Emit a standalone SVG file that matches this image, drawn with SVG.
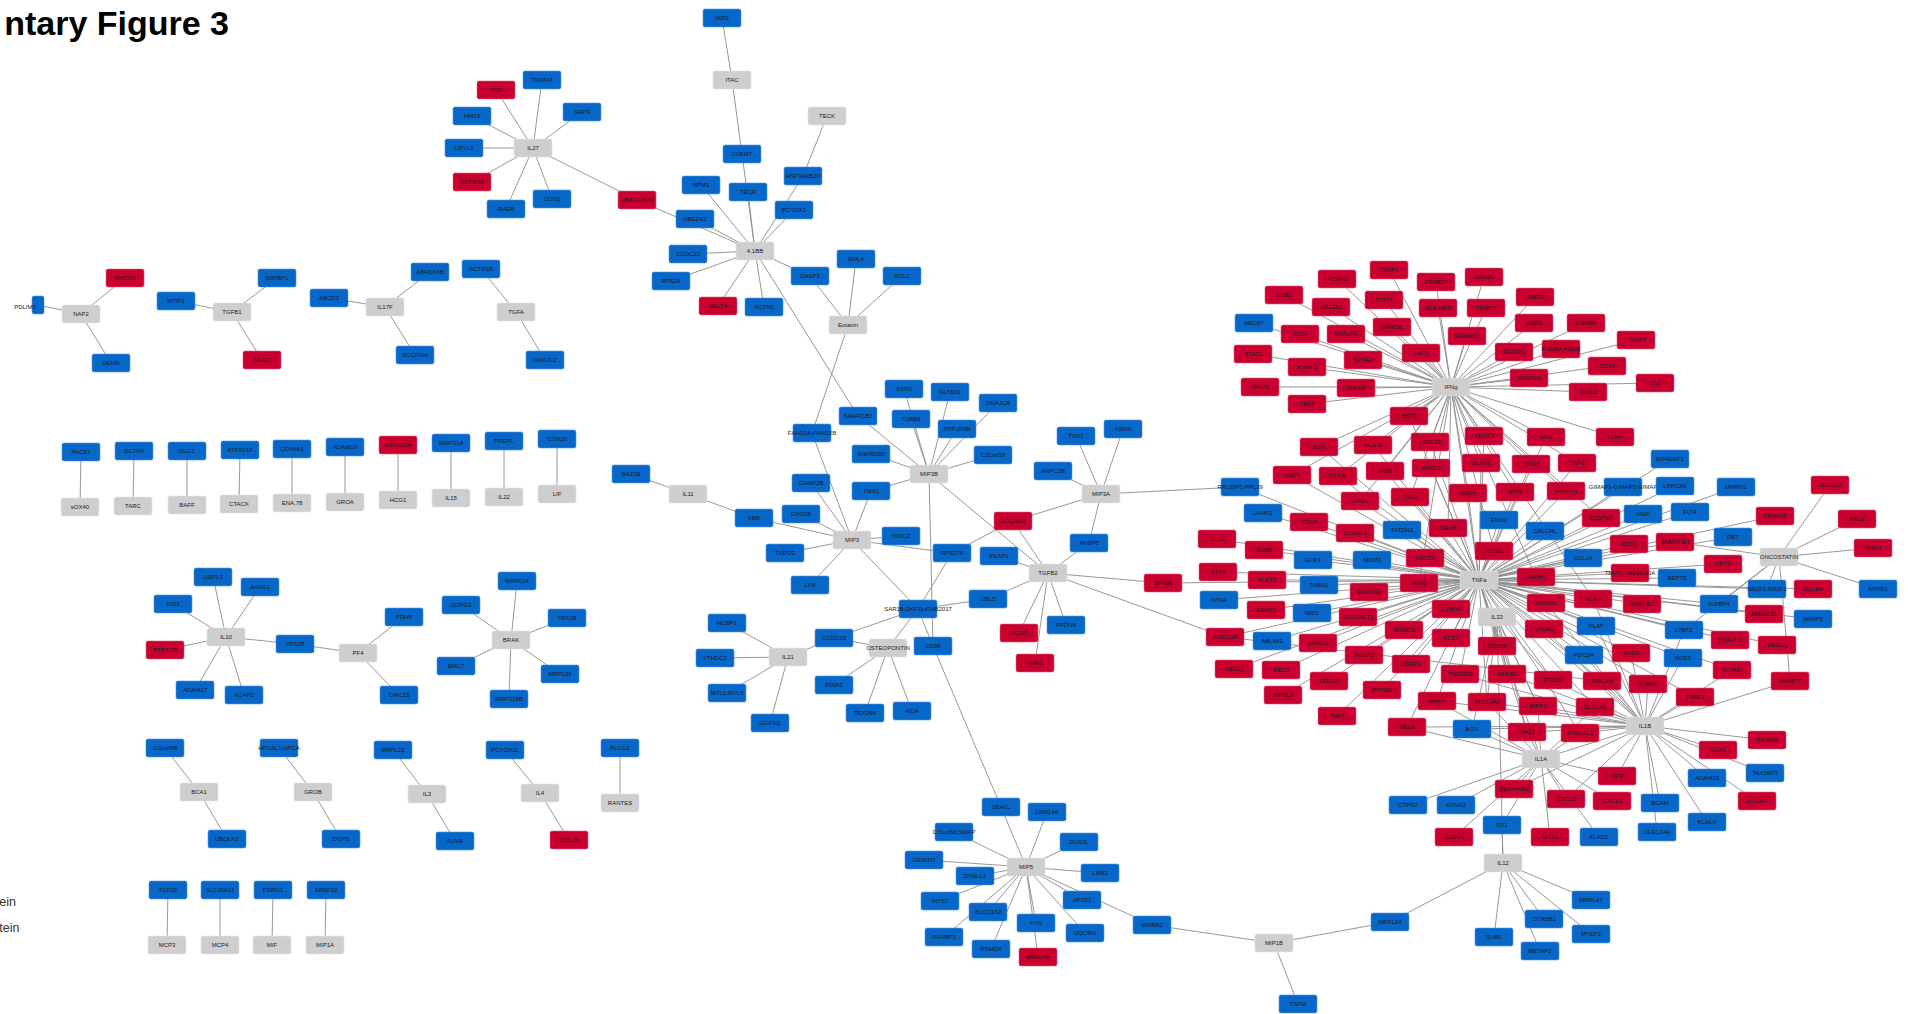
<svg xmlns="http://www.w3.org/2000/svg" xmlns:xlink="http://www.w3.org/1999/xlink" width="1908" height="1014" viewBox="0 0 1908 1014">
<style>
.b{fill:#0767c9;stroke:#4f93dd;stroke-width:0.6}
.r{fill:#c9002f;stroke:#e0607a;stroke-width:0.6}
.g{fill:#cecece;stroke:#e2e2e2;stroke-width:0.6}
text{font-family:"Liberation Sans",Arial,sans-serif;font-size:6px;text-anchor:middle;fill:#1a1a1a}
.title{font-size:34px;font-weight:bold;text-anchor:end;fill:#000}
.lg{font-size:12.5px;text-anchor:end;fill:#333}
#edges line{stroke:#8c8c8c;stroke-width:0.9}
</style>
<defs><rect id="bx" x="-19" y="-9" width="38" height="18" rx="2"/></defs>
<rect width="1908" height="1014" fill="#fff"/>
<text class="title" x="229" y="35">ntary Figure 3</text>
<text class="lg" x="16" y="906">ein</text>
<text class="lg" x="19.5" y="932">tein</text>
<g id="edges">
<line x1="81" y1="314" x2="38" y2="305"/><line x1="81" y1="314" x2="125" y2="278"/><line x1="81" y1="314" x2="111" y2="363"/>
<line x1="232" y1="312" x2="176" y2="301"/><line x1="232" y1="312" x2="277" y2="278"/><line x1="232" y1="312" x2="262" y2="360"/>
<line x1="385" y1="307" x2="329" y2="298"/><line x1="385" y1="307" x2="430" y2="272"/><line x1="385" y1="307" x2="415" y2="355"/>
<line x1="516" y1="312" x2="481" y2="269"/><line x1="516" y1="312" x2="545" y2="360"/>
<line x1="533" y1="148" x2="496" y2="90"/><line x1="533" y1="148" x2="542" y2="80"/><line x1="533" y1="148" x2="472" y2="116"/><line x1="533" y1="148" x2="464" y2="148"/><line x1="533" y1="148" x2="582" y2="112"/><line x1="533" y1="148" x2="472" y2="182"/><line x1="533" y1="148" x2="506" y2="209"/><line x1="533" y1="148" x2="552" y2="199"/><line x1="533" y1="148" x2="637" y2="200"/>
<line x1="722" y1="18" x2="732" y2="80"/><line x1="732" y1="80" x2="742" y2="154"/><line x1="742" y1="154" x2="755" y2="251"/><line x1="827" y1="116" x2="803" y2="176"/><line x1="803" y1="176" x2="755" y2="251"/><line x1="794" y1="210" x2="755" y2="251"/><line x1="701" y1="185" x2="755" y2="251"/><line x1="748" y1="192" x2="755" y2="251"/><line x1="695" y1="219" x2="755" y2="251"/><line x1="637" y1="200" x2="755" y2="251"/><line x1="688" y1="254" x2="755" y2="251"/><line x1="671" y1="281" x2="755" y2="251"/><line x1="718" y1="306" x2="755" y2="251"/><line x1="764" y1="307" x2="755" y2="251"/><line x1="810" y1="276" x2="755" y2="251"/><line x1="755" y1="251" x2="858" y2="416"/>
<line x1="810" y1="276" x2="848" y2="325"/><line x1="856" y1="259" x2="848" y2="325"/><line x1="902" y1="276" x2="848" y2="325"/><line x1="812" y1="433" x2="848" y2="325"/>
<line x1="929" y1="474" x2="904" y2="389"/><line x1="929" y1="474" x2="911" y2="419"/><line x1="929" y1="474" x2="950" y2="392"/><line x1="929" y1="474" x2="998" y2="403"/><line x1="929" y1="474" x2="957" y2="429"/><line x1="929" y1="474" x2="858" y2="416"/><line x1="929" y1="474" x2="871" y2="454"/><line x1="929" y1="474" x2="993" y2="455"/><line x1="929" y1="474" x2="871" y2="491"/><line x1="929" y1="474" x2="933" y2="646"/><line x1="929" y1="474" x2="1048" y2="573"/>
<line x1="852" y1="540" x2="811" y2="483"/><line x1="852" y1="540" x2="812" y2="433"/><line x1="852" y1="540" x2="871" y2="491"/><line x1="852" y1="540" x2="754" y2="518"/><line x1="852" y1="540" x2="801" y2="514"/><line x1="852" y1="540" x2="901" y2="536"/><line x1="852" y1="540" x2="785" y2="553"/><line x1="852" y1="540" x2="810" y2="585"/><line x1="852" y1="540" x2="952" y2="553"/><line x1="852" y1="540" x2="918" y2="609"/>
<line x1="688" y1="494" x2="631" y2="474"/><line x1="688" y1="494" x2="754" y2="518"/>
<line x1="1101" y1="494" x2="1076" y2="436"/><line x1="1101" y1="494" x2="1123" y2="429"/><line x1="1101" y1="494" x2="1053" y2="471"/><line x1="1101" y1="494" x2="1089" y2="543"/><line x1="1101" y1="494" x2="1013" y2="521"/><line x1="1101" y1="494" x2="1240" y2="487"/>
<line x1="1013" y1="521" x2="952" y2="553"/><line x1="1013" y1="521" x2="1048" y2="573"/>
<line x1="1048" y1="573" x2="999" y2="556"/><line x1="1048" y1="573" x2="1089" y2="543"/><line x1="1048" y1="573" x2="988" y2="599"/><line x1="1048" y1="573" x2="1019" y2="633"/><line x1="1048" y1="573" x2="1035" y2="663"/><line x1="1048" y1="573" x2="1066" y2="625"/><line x1="1048" y1="573" x2="1163" y2="583"/><line x1="1048" y1="573" x2="1225" y2="637"/>
<line x1="988" y1="599" x2="918" y2="609"/>
<line x1="918" y1="609" x2="834" y2="638"/><line x1="918" y1="609" x2="888" y2="648"/><line x1="918" y1="609" x2="933" y2="646"/><line x1="918" y1="609" x2="952" y2="553"/>
<line x1="788" y1="657" x2="727" y2="623"/><line x1="788" y1="657" x2="715" y2="658"/><line x1="788" y1="657" x2="727" y2="693"/><line x1="788" y1="657" x2="770" y2="723"/><line x1="788" y1="657" x2="834" y2="638"/>
<line x1="888" y1="648" x2="834" y2="638"/><line x1="888" y1="648" x2="834" y2="685"/><line x1="888" y1="648" x2="865" y2="713"/><line x1="888" y1="648" x2="912" y2="711"/>
<line x1="933" y1="646" x2="1001" y2="807"/>
<line x1="1026" y1="867" x2="1001" y2="807"/><line x1="1026" y1="867" x2="1047" y2="812"/><line x1="1026" y1="867" x2="954" y2="832"/><line x1="1026" y1="867" x2="1079" y2="842"/><line x1="1026" y1="867" x2="924" y2="860"/><line x1="1026" y1="867" x2="1100" y2="873"/><line x1="1026" y1="867" x2="975" y2="876"/><line x1="1026" y1="867" x2="940" y2="901"/><line x1="1026" y1="867" x2="988" y2="912"/><line x1="1026" y1="867" x2="944" y2="937"/><line x1="1026" y1="867" x2="991" y2="949"/><line x1="1026" y1="867" x2="1036" y2="923"/><line x1="1026" y1="867" x2="1038" y2="957"/><line x1="1026" y1="867" x2="1085" y2="933"/><line x1="1026" y1="867" x2="1082" y2="900"/><line x1="1026" y1="867" x2="1152" y2="925"/>
<line x1="1274" y1="943" x2="1152" y2="925"/><line x1="1274" y1="943" x2="1390" y2="922"/><line x1="1274" y1="943" x2="1298" y2="1004"/>
<line x1="1503" y1="863" x2="1390" y2="922"/><line x1="1503" y1="863" x2="1494" y2="937"/><line x1="1503" y1="863" x2="1544" y2="919"/><line x1="1503" y1="863" x2="1540" y2="951"/><line x1="1503" y1="863" x2="1591" y2="934"/><line x1="1503" y1="863" x2="1591" y2="900"/><line x1="1503" y1="863" x2="1502" y2="825"/>
<line x1="81" y1="452" x2="80" y2="507"/><line x1="134" y1="451" x2="133" y2="506"/><line x1="187" y1="451" x2="187" y2="505"/><line x1="240" y1="450" x2="239" y2="504"/><line x1="292" y1="449" x2="292" y2="503"/><line x1="345" y1="447" x2="345" y2="502"/><line x1="398" y1="445" x2="398" y2="500"/><line x1="451" y1="443" x2="451" y2="498"/><line x1="504" y1="441" x2="504" y2="497"/><line x1="557" y1="439" x2="557" y2="494"/>
<line x1="226" y1="637" x2="213" y2="577"/><line x1="226" y1="637" x2="260" y2="587"/><line x1="226" y1="637" x2="173" y2="604"/><line x1="226" y1="637" x2="165" y2="650"/><line x1="226" y1="637" x2="295" y2="644"/><line x1="226" y1="637" x2="195" y2="690"/><line x1="226" y1="637" x2="244" y2="695"/>
<line x1="358" y1="653" x2="295" y2="644"/><line x1="358" y1="653" x2="404" y2="617"/><line x1="358" y1="653" x2="399" y2="695"/>
<line x1="511" y1="640" x2="517" y2="581"/><line x1="511" y1="640" x2="461" y2="605"/><line x1="511" y1="640" x2="567" y2="618"/><line x1="511" y1="640" x2="456" y2="666"/><line x1="511" y1="640" x2="560" y2="674"/><line x1="511" y1="640" x2="509" y2="699"/>
<line x1="199" y1="792" x2="165" y2="748"/><line x1="199" y1="792" x2="227" y2="839"/><line x1="313" y1="792" x2="279" y2="748"/><line x1="313" y1="792" x2="341" y2="839"/><line x1="427" y1="794" x2="393" y2="750"/><line x1="427" y1="794" x2="455" y2="841"/><line x1="540" y1="793" x2="505" y2="750"/><line x1="540" y1="793" x2="569" y2="840"/><line x1="620" y1="803" x2="620" y2="748"/>
<line x1="168" y1="890" x2="167" y2="945"/><line x1="220" y1="890" x2="220" y2="945"/><line x1="273" y1="890" x2="272" y2="945"/><line x1="326" y1="890" x2="325" y2="945"/>
<line x1="1451" y1="387" x2="1389" y2="270"/><line x1="1451" y1="387" x2="1337" y2="279"/><line x1="1451" y1="387" x2="1436" y2="282"/><line x1="1451" y1="387" x2="1484" y2="277"/><line x1="1451" y1="387" x2="1284" y2="295"/><line x1="1451" y1="387" x2="1384" y2="300"/><line x1="1451" y1="387" x2="1438" y2="308"/><line x1="1451" y1="387" x2="1486" y2="308"/><line x1="1451" y1="387" x2="1535" y2="297"/><line x1="1451" y1="387" x2="1331" y2="307"/><line x1="1451" y1="387" x2="1254" y2="323"/><line x1="1451" y1="387" x2="1392" y2="327"/><line x1="1451" y1="387" x2="1534" y2="323"/><line x1="1451" y1="387" x2="1586" y2="323"/><line x1="1451" y1="387" x2="1300" y2="334"/><line x1="1451" y1="387" x2="1346" y2="334"/><line x1="1451" y1="387" x2="1467" y2="336"/><line x1="1451" y1="387" x2="1636" y2="340"/><line x1="1451" y1="387" x2="1253" y2="354"/><line x1="1451" y1="387" x2="1421" y2="353"/><line x1="1451" y1="387" x2="1514" y2="352"/><line x1="1451" y1="387" x2="1561" y2="349"/><line x1="1451" y1="387" x2="1307" y2="367"/><line x1="1451" y1="387" x2="1363" y2="360"/><line x1="1451" y1="387" x2="1607" y2="366"/><line x1="1451" y1="387" x2="1529" y2="378"/><line x1="1451" y1="387" x2="1260" y2="387"/><line x1="1451" y1="387" x2="1356" y2="388"/><line x1="1451" y1="387" x2="1655" y2="383"/><line x1="1451" y1="387" x2="1588" y2="392"/><line x1="1451" y1="387" x2="1307" y2="404"/><line x1="1451" y1="387" x2="1409" y2="416"/><line x1="1451" y1="387" x2="1484" y2="436"/><line x1="1451" y1="387" x2="1546" y2="437"/><line x1="1451" y1="387" x2="1615" y2="437"/><line x1="1451" y1="387" x2="1319" y2="447"/><line x1="1451" y1="387" x2="1373" y2="445"/><line x1="1451" y1="387" x2="1430" y2="442"/><line x1="1451" y1="387" x2="1481" y2="463"/><line x1="1451" y1="387" x2="1531" y2="464"/><line x1="1451" y1="387" x2="1577" y2="463"/><line x1="1451" y1="387" x2="1292" y2="475"/><line x1="1451" y1="387" x2="1338" y2="476"/><line x1="1451" y1="387" x2="1385" y2="471"/><line x1="1451" y1="387" x2="1431" y2="468"/><line x1="1451" y1="387" x2="1566" y2="491"/><line x1="1451" y1="387" x2="1410" y2="497"/><line x1="1451" y1="387" x2="1468" y2="493"/><line x1="1451" y1="387" x2="1515" y2="492"/><line x1="1451" y1="387" x2="1360" y2="501"/><line x1="1451" y1="387" x2="1479" y2="580"/><line x1="1451" y1="387" x2="1494" y2="551"/><line x1="1451" y1="387" x2="1536" y2="577"/><line x1="1451" y1="387" x2="1593" y2="599"/><line x1="1451" y1="387" x2="1419" y2="583"/><line x1="1451" y1="387" x2="1601" y2="518"/><line x1="1451" y1="387" x2="1448" y2="528"/>
<line x1="1479" y1="580" x2="1292" y2="475"/><line x1="1479" y1="580" x2="1338" y2="476"/><line x1="1479" y1="580" x2="1385" y2="471"/><line x1="1479" y1="580" x2="1431" y2="468"/><line x1="1479" y1="580" x2="1410" y2="497"/><line x1="1479" y1="580" x2="1468" y2="493"/><line x1="1479" y1="580" x2="1515" y2="492"/><line x1="1479" y1="580" x2="1566" y2="491"/><line x1="1479" y1="580" x2="1360" y2="501"/><line x1="1479" y1="580" x2="1240" y2="487"/><line x1="1479" y1="580" x2="1319" y2="447"/><line x1="1479" y1="580" x2="1373" y2="445"/><line x1="1479" y1="580" x2="1409" y2="416"/><line x1="1479" y1="580" x2="1430" y2="442"/><line x1="1479" y1="580" x2="1484" y2="436"/><line x1="1479" y1="580" x2="1481" y2="463"/><line x1="1479" y1="580" x2="1531" y2="464"/><line x1="1479" y1="580" x2="1577" y2="463"/><line x1="1479" y1="580" x2="1546" y2="437"/>
<line x1="1479" y1="580" x2="1263" y2="513"/><line x1="1479" y1="580" x2="1309" y2="522"/><line x1="1479" y1="580" x2="1499" y2="520"/><line x1="1479" y1="580" x2="1601" y2="518"/><line x1="1479" y1="580" x2="1355" y2="533"/><line x1="1479" y1="580" x2="1402" y2="530"/><line x1="1479" y1="580" x2="1448" y2="528"/><line x1="1479" y1="580" x2="1545" y2="531"/><line x1="1479" y1="580" x2="1217" y2="539"/><line x1="1479" y1="580" x2="1264" y2="550"/><line x1="1479" y1="580" x2="1494" y2="551"/><line x1="1479" y1="580" x2="1313" y2="560"/><line x1="1479" y1="580" x2="1372" y2="560"/><line x1="1479" y1="580" x2="1425" y2="558"/><line x1="1479" y1="580" x2="1583" y2="558"/><line x1="1479" y1="580" x2="1218" y2="572"/><line x1="1479" y1="580" x2="1267" y2="580"/><line x1="1479" y1="580" x2="1163" y2="583"/><line x1="1479" y1="580" x2="1419" y2="583"/><line x1="1479" y1="580" x2="1536" y2="577"/><line x1="1479" y1="580" x2="1319" y2="585"/><line x1="1479" y1="580" x2="1369" y2="592"/><line x1="1479" y1="580" x2="1219" y2="600"/><line x1="1479" y1="580" x2="1593" y2="599"/><line x1="1479" y1="580" x2="1546" y2="603"/><line x1="1479" y1="580" x2="1266" y2="610"/><line x1="1479" y1="580" x2="1312" y2="613"/><line x1="1479" y1="580" x2="1358" y2="617"/><line x1="1479" y1="580" x2="1451" y2="609"/><line x1="1479" y1="580" x2="1596" y2="626"/><line x1="1479" y1="580" x2="1404" y2="630"/><line x1="1479" y1="580" x2="1544" y2="629"/><line x1="1479" y1="580" x2="1225" y2="637"/><line x1="1479" y1="580" x2="1272" y2="641"/><line x1="1479" y1="580" x2="1318" y2="643"/><line x1="1479" y1="580" x2="1451" y2="638"/><line x1="1479" y1="580" x2="1497" y2="646"/><line x1="1479" y1="580" x2="1584" y2="655"/><line x1="1479" y1="580" x2="1364" y2="655"/><line x1="1479" y1="580" x2="1411" y2="664"/><line x1="1479" y1="580" x2="1234" y2="669"/><line x1="1479" y1="580" x2="1281" y2="670"/><line x1="1479" y1="580" x2="1460" y2="674"/><line x1="1479" y1="580" x2="1507" y2="674"/><line x1="1479" y1="580" x2="1553" y2="680"/><line x1="1479" y1="580" x2="1602" y2="681"/><line x1="1479" y1="580" x2="1329" y2="681"/><line x1="1479" y1="580" x2="1382" y2="690"/><line x1="1479" y1="580" x2="1283" y2="695"/><line x1="1479" y1="580" x2="1437" y2="701"/><line x1="1479" y1="580" x2="1487" y2="702"/><line x1="1479" y1="580" x2="1538" y2="706"/><line x1="1479" y1="580" x2="1595" y2="707"/><line x1="1479" y1="580" x2="1337" y2="716"/><line x1="1479" y1="580" x2="1407" y2="727"/><line x1="1479" y1="580" x2="1527" y2="732"/><line x1="1479" y1="580" x2="1580" y2="733"/><line x1="1479" y1="580" x2="1629" y2="544"/><line x1="1479" y1="580" x2="1675" y2="542"/><line x1="1479" y1="580" x2="1630" y2="573"/><line x1="1479" y1="580" x2="1677" y2="578"/><line x1="1479" y1="580" x2="1642" y2="604"/><line x1="1479" y1="580" x2="1719" y2="604"/><line x1="1479" y1="580" x2="1764" y2="614"/><line x1="1479" y1="580" x2="1684" y2="630"/><line x1="1479" y1="580" x2="1730" y2="640"/><line x1="1479" y1="580" x2="1631" y2="653"/><line x1="1479" y1="580" x2="1683" y2="658"/><line x1="1479" y1="580" x2="1732" y2="670"/><line x1="1479" y1="580" x2="1648" y2="684"/><line x1="1479" y1="580" x2="1695" y2="697"/><line x1="1479" y1="580" x2="1643" y2="514"/><line x1="1479" y1="580" x2="1690" y2="512"/><line x1="1479" y1="580" x2="1736" y2="487"/><line x1="1479" y1="580" x2="1675" y2="486"/><line x1="1479" y1="580" x2="1670" y2="459"/><line x1="1479" y1="580" x2="1623" y2="487"/><line x1="1479" y1="580" x2="1767" y2="589"/><line x1="1479" y1="580" x2="1723" y2="564"/><line x1="1479" y1="580" x2="1733" y2="537"/><line x1="1479" y1="580" x2="1813" y2="589"/><line x1="1479" y1="580" x2="1813" y2="619"/><line x1="1479" y1="580" x2="1775" y2="516"/><line x1="1479" y1="580" x2="1777" y2="645"/>
<line x1="1497" y1="617" x2="1497" y2="646"/><line x1="1497" y1="617" x2="1507" y2="674"/><line x1="1497" y1="617" x2="1487" y2="702"/><line x1="1497" y1="617" x2="1527" y2="732"/><line x1="1497" y1="617" x2="1538" y2="706"/><line x1="1497" y1="617" x2="1553" y2="680"/><line x1="1497" y1="617" x2="1503" y2="863"/><line x1="1497" y1="617" x2="1472" y2="729"/>
<line x1="1645" y1="726" x2="1407" y2="727"/><line x1="1645" y1="726" x2="1472" y2="729"/><line x1="1645" y1="726" x2="1527" y2="732"/><line x1="1645" y1="726" x2="1580" y2="733"/><line x1="1645" y1="726" x2="1595" y2="707"/><line x1="1645" y1="726" x2="1538" y2="706"/><line x1="1645" y1="726" x2="1487" y2="702"/><line x1="1645" y1="726" x2="1437" y2="701"/><line x1="1645" y1="726" x2="1695" y2="697"/><line x1="1645" y1="726" x2="1790" y2="681"/><line x1="1645" y1="726" x2="1648" y2="684"/><line x1="1645" y1="726" x2="1631" y2="653"/><line x1="1645" y1="726" x2="1683" y2="658"/><line x1="1645" y1="726" x2="1684" y2="630"/><line x1="1645" y1="726" x2="1602" y2="681"/><line x1="1645" y1="726" x2="1553" y2="680"/><line x1="1645" y1="726" x2="1584" y2="655"/><line x1="1645" y1="726" x2="1596" y2="626"/><line x1="1645" y1="726" x2="1732" y2="670"/><line x1="1645" y1="726" x2="1767" y2="740"/><line x1="1645" y1="726" x2="1718" y2="750"/><line x1="1645" y1="726" x2="1765" y2="773"/><line x1="1645" y1="726" x2="1707" y2="778"/><line x1="1645" y1="726" x2="1757" y2="801"/><line x1="1645" y1="726" x2="1707" y2="822"/><line x1="1645" y1="726" x2="1660" y2="803"/><line x1="1645" y1="726" x2="1657" y2="832"/><line x1="1645" y1="726" x2="1617" y2="776"/><line x1="1645" y1="726" x2="1566" y2="799"/><line x1="1645" y1="726" x2="1514" y2="789"/><line x1="1645" y1="726" x2="1460" y2="674"/><line x1="1645" y1="726" x2="1507" y2="674"/><line x1="1645" y1="726" x2="1593" y2="599"/><line x1="1645" y1="726" x2="1546" y2="603"/><line x1="1645" y1="726" x2="1544" y2="629"/><line x1="1645" y1="726" x2="1479" y2="580"/><line x1="1645" y1="726" x2="1541" y2="759"/>
<line x1="1541" y1="759" x2="1407" y2="727"/><line x1="1541" y1="759" x2="1472" y2="729"/><line x1="1541" y1="759" x2="1527" y2="732"/><line x1="1541" y1="759" x2="1580" y2="733"/><line x1="1541" y1="759" x2="1487" y2="702"/><line x1="1541" y1="759" x2="1437" y2="701"/><line x1="1541" y1="759" x2="1538" y2="706"/><line x1="1541" y1="759" x2="1408" y2="805"/><line x1="1541" y1="759" x2="1456" y2="805"/><line x1="1541" y1="759" x2="1514" y2="789"/><line x1="1541" y1="759" x2="1454" y2="837"/><line x1="1541" y1="759" x2="1566" y2="799"/><line x1="1541" y1="759" x2="1612" y2="801"/><line x1="1541" y1="759" x2="1617" y2="776"/><line x1="1541" y1="759" x2="1550" y2="837"/><line x1="1541" y1="759" x2="1502" y2="825"/><line x1="1541" y1="759" x2="1599" y2="837"/><line x1="1541" y1="759" x2="1595" y2="707"/><line x1="1541" y1="759" x2="1479" y2="580"/>
<line x1="1779" y1="557" x2="1830" y2="485"/><line x1="1779" y1="557" x2="1857" y2="519"/><line x1="1779" y1="557" x2="1873" y2="548"/><line x1="1779" y1="557" x2="1878" y2="589"/><line x1="1779" y1="557" x2="1675" y2="542"/><line x1="1779" y1="557" x2="1719" y2="604"/><line x1="1779" y1="557" x2="1684" y2="630"/><line x1="1779" y1="557" x2="1767" y2="589"/><line x1="1779" y1="557" x2="1790" y2="681"/>
<line x1="1225" y1="637" x2="1602" y2="681"/>
</g>
<g id="nodes">
<g id="n-PDLIM5"><rect class="b" x="32" y="296" width="12" height="18" rx="2"/><text x="25" y="309">PDLIM5</text></g>
<g id="n-NAP2" transform="translate(81,314)"><use href="#bx" class="g"/><text y="2.1">NAP2</text></g>
<g id="n-HMCN2" transform="translate(125,278)"><use href="#bx" class="r"/><text y="2.1">HMCN2</text></g>
<g id="n-DENR" transform="translate(111,363)"><use href="#bx" class="b"/><text y="2.1">DENR</text></g>
<g id="n-MTIF2" transform="translate(176,301)"><use href="#bx" class="b"/><text y="2.1">MTIF2</text></g>
<g id="n-TGFB1" transform="translate(232,312)"><use href="#bx" class="g"/><text y="2.1">TGFB1</text></g>
<g id="n-SRFBP1" transform="translate(277,278)"><use href="#bx" class="b"/><text y="2.1">SRFBP1</text></g>
<g id="n-MLEC" transform="translate(262,360)"><use href="#bx" class="r"/><text y="2.1">MLEC</text></g>
<g id="n-ABCD3" transform="translate(329,298)"><use href="#bx" class="b"/><text y="2.1">ABCD3</text></g>
<g id="n-IL17F" transform="translate(385,307)"><use href="#bx" class="g"/><text y="2.1">IL17F</text></g>
<g id="n-ABHD14B" transform="translate(430,272)"><use href="#bx" class="b"/><text y="2.1">ABHD14B</text></g>
<g id="n-SCCPDH" transform="translate(415,355)"><use href="#bx" class="b"/><text y="2.1">SCCPDH</text></g>
<g id="n-ACTR1B" transform="translate(481,269)"><use href="#bx" class="b"/><text y="2.1">ACTR1B</text></g>
<g id="n-TGFA" transform="translate(516,312)"><use href="#bx" class="g"/><text y="2.1">TGFA</text></g>
<g id="n-DNAJC2" transform="translate(545,360)"><use href="#bx" class="b"/><text y="2.1">DNAJC2</text></g>
<g id="n-IL27" transform="translate(533,148)"><use href="#bx" class="g"/><text y="2.1">IL27</text></g>
<g id="n-DSP" transform="translate(496,90)"><use href="#bx" class="r"/><text y="2.1">DSP</text></g>
<g id="n-TRIM47" transform="translate(542,80)"><use href="#bx" class="b"/><text y="2.1">TRIM47</text></g>
<g id="n-HM13" transform="translate(472,116)"><use href="#bx" class="b"/><text y="2.1">HM13</text></g>
<g id="n-CRYL1" transform="translate(464,148)"><use href="#bx" class="b"/><text y="2.1">CRYL1</text></g>
<g id="n-SRP9" transform="translate(582,112)"><use href="#bx" class="b"/><text y="2.1">SRP9</text></g>
<g id="n-SPTBN2" transform="translate(472,182)"><use href="#bx" class="r"/><text y="2.1">SPTBN2</text></g>
<g id="n-RHEB" transform="translate(506,209)"><use href="#bx" class="b"/><text y="2.1">RHEB</text></g>
<g id="n-COG2" transform="translate(552,199)"><use href="#bx" class="b"/><text y="2.1">COG2</text></g>
<g id="n-HBA1-HBA2" transform="translate(637,200)"><use href="#bx" class="r"/><text y="2.1">HBA1;HBA2</text></g>
<g id="n-IARS" transform="translate(722,18)"><use href="#bx" class="b"/><text y="2.1">IARS</text></g>
<g id="n-ITAC" transform="translate(732,80)"><use href="#bx" class="g"/><text y="2.1">ITAC</text></g>
<g id="n-TECK" transform="translate(827,116)"><use href="#bx" class="g"/><text y="2.1">TECK</text></g>
<g id="n-LYRM7" transform="translate(742,154)"><use href="#bx" class="b"/><text y="2.1">LYRM7</text></g>
<g id="n-HSP90AB2P" transform="translate(803,176)"><use href="#bx" class="b"/><text y="2.1">HSP90AB2P</text></g>
<g id="n-NPM3" transform="translate(701,185)"><use href="#bx" class="b"/><text y="2.1">NPM3</text></g>
<g id="n-TECR" transform="translate(748,192)"><use href="#bx" class="b"/><text y="2.1">TECR</text></g>
<g id="n-PCYOX1" transform="translate(794,210)"><use href="#bx" class="b"/><text y="2.1">PCYOX1</text></g>
<g id="n-UBE2V2" transform="translate(695,219)"><use href="#bx" class="b"/><text y="2.1">UBE2V2</text></g>
<g id="n-4-1BB" transform="translate(755,251)"><use href="#bx" class="g"/><text y="2.1">4.1BB</text></g>
<g id="n-CCDC12" transform="translate(688,254)"><use href="#bx" class="b"/><text y="2.1">CCDC12</text></g>
<g id="n-RPS29" transform="translate(671,281)"><use href="#bx" class="b"/><text y="2.1">RPS29</text></g>
<g id="n-MLLT4" transform="translate(718,306)"><use href="#bx" class="r"/><text y="2.1">MLLT4</text></g>
<g id="n-ACTN1" transform="translate(764,307)"><use href="#bx" class="b"/><text y="2.1">ACTN1</text></g>
<g id="n-CASP3" transform="translate(810,276)"><use href="#bx" class="b"/><text y="2.1">CASP3</text></g>
<g id="n-EML4" transform="translate(856,259)"><use href="#bx" class="b"/><text y="2.1">EML4</text></g>
<g id="n-RCL1" transform="translate(902,276)"><use href="#bx" class="b"/><text y="2.1">RCL1</text></g>
<g id="n-Eotaxin" transform="translate(848,325)"><use href="#bx" class="g"/><text y="2.1">Eotaxin</text></g>
<g id="n-PACS1" transform="translate(81,452)"><use href="#bx" class="b"/><text y="2.1">PACS1</text></g>
<g id="n-sOX40" transform="translate(80,507)"><use href="#bx" class="g"/><text y="2.1">sOX40</text></g>
<g id="n-DCTN4" transform="translate(134,451)"><use href="#bx" class="b"/><text y="2.1">DCTN4</text></g>
<g id="n-TARC" transform="translate(133,506)"><use href="#bx" class="g"/><text y="2.1">TARC</text></g>
<g id="n-DLG1" transform="translate(187,451)"><use href="#bx" class="b"/><text y="2.1">DLG1</text></g>
<g id="n-BAFF" transform="translate(187,505)"><use href="#bx" class="g"/><text y="2.1">BAFF</text></g>
<g id="n-ATP6V1F" transform="translate(240,450)"><use href="#bx" class="b"/><text y="2.1">ATP6V1F</text></g>
<g id="n-CTACK" transform="translate(239,504)"><use href="#bx" class="g"/><text y="2.1">CTACK</text></g>
<g id="n-COX6A1" transform="translate(292,449)"><use href="#bx" class="b"/><text y="2.1">COX6A1</text></g>
<g id="n-ENA-78" transform="translate(292,503)"><use href="#bx" class="g"/><text y="2.1">ENA.78</text></g>
<g id="n-ADAM10" transform="translate(345,447)"><use href="#bx" class="b"/><text y="2.1">ADAM10</text></g>
<g id="n-GROA" transform="translate(345,502)"><use href="#bx" class="g"/><text y="2.1">GROA</text></g>
<g id="n-GATAD2A" transform="translate(398,445)"><use href="#bx" class="r"/><text y="2.1">GATAD2A</text></g>
<g id="n-HCG1" transform="translate(398,500)"><use href="#bx" class="g"/><text y="2.1">HCG1</text></g>
<g id="n-MRPS14" transform="translate(451,443)"><use href="#bx" class="b"/><text y="2.1">MRPS14</text></g>
<g id="n-IL15" transform="translate(451,498)"><use href="#bx" class="g"/><text y="2.1">IL15</text></g>
<g id="n-PREPL" transform="translate(504,441)"><use href="#bx" class="b"/><text y="2.1">PREPL</text></g>
<g id="n-IL22" transform="translate(504,497)"><use href="#bx" class="g"/><text y="2.1">IL22</text></g>
<g id="n-COX20" transform="translate(557,439)"><use href="#bx" class="b"/><text y="2.1">COX20</text></g>
<g id="n-LIF" transform="translate(557,494)"><use href="#bx" class="g"/><text y="2.1">LIF</text></g>
<g id="n-IL10" transform="translate(226,637)"><use href="#bx" class="g"/><text y="2.1">IL10</text></g>
<g id="n-USP13" transform="translate(213,577)"><use href="#bx" class="b"/><text y="2.1">USP13</text></g>
<g id="n-AARS2" transform="translate(260,587)"><use href="#bx" class="b"/><text y="2.1">AARS2</text></g>
<g id="n-DIS3" transform="translate(173,604)"><use href="#bx" class="b"/><text y="2.1">DIS3</text></g>
<g id="n-PPP1CB" transform="translate(165,650)"><use href="#bx" class="r"/><text y="2.1">PPP1CB</text></g>
<g id="n-VPS28" transform="translate(295,644)"><use href="#bx" class="b"/><text y="2.1">VPS28</text></g>
<g id="n-ADAM17" transform="translate(195,690)"><use href="#bx" class="b"/><text y="2.1">ADAM17</text></g>
<g id="n-ACAP2" transform="translate(244,695)"><use href="#bx" class="b"/><text y="2.1">ACAP2</text></g>
<g id="n-PF4" transform="translate(358,653)"><use href="#bx" class="g"/><text y="2.1">PF4</text></g>
<g id="n-PDHX" transform="translate(404,617)"><use href="#bx" class="b"/><text y="2.1">PDHX</text></g>
<g id="n-CWC15" transform="translate(399,695)"><use href="#bx" class="b"/><text y="2.1">CWC15</text></g>
<g id="n-BRAK" transform="translate(511,640)"><use href="#bx" class="g"/><text y="2.1">BRAK</text></g>
<g id="n-MAPK14" transform="translate(517,581)"><use href="#bx" class="b"/><text y="2.1">MAPK14</text></g>
<g id="n-COPG2" transform="translate(461,605)"><use href="#bx" class="b"/><text y="2.1">COPG2</text></g>
<g id="n-TRA2B" transform="translate(567,618)"><use href="#bx" class="b"/><text y="2.1">TRA2B</text></g>
<g id="n-EMC7" transform="translate(456,666)"><use href="#bx" class="b"/><text y="2.1">EMC7</text></g>
<g id="n-MRPL39" transform="translate(560,674)"><use href="#bx" class="b"/><text y="2.1">MRPL39</text></g>
<g id="n-MRPS18B" transform="translate(509,699)"><use href="#bx" class="b"/><text y="2.1">MRPS18B</text></g>
<g id="n-C11orf68" transform="translate(165,748)"><use href="#bx" class="b"/><text y="2.1">C11orf68</text></g>
<g id="n-BCA1" transform="translate(199,792)"><use href="#bx" class="g"/><text y="2.1">BCA1</text></g>
<g id="n-UBQLN1" transform="translate(227,839)"><use href="#bx" class="b"/><text y="2.1">UBQLN1</text></g>
<g id="n-HPCAL1-HPCA" transform="translate(279,748)"><use href="#bx" class="b"/><text y="2.1">HPCAL1;HPCA</text></g>
<g id="n-GROB" transform="translate(313,792)"><use href="#bx" class="g"/><text y="2.1">GROB</text></g>
<g id="n-DCPS" transform="translate(341,839)"><use href="#bx" class="b"/><text y="2.1">DCPS</text></g>
<g id="n-MRPL23" transform="translate(393,750)"><use href="#bx" class="b"/><text y="2.1">MRPL23</text></g>
<g id="n-IL3" transform="translate(427,794)"><use href="#bx" class="g"/><text y="2.1">IL3</text></g>
<g id="n-FLNA" transform="translate(455,841)"><use href="#bx" class="b"/><text y="2.1">FLNA</text></g>
<g id="n-PCYOX1L" transform="translate(505,750)"><use href="#bx" class="b"/><text y="2.1">PCYOX1L</text></g>
<g id="n-IL4" transform="translate(540,793)"><use href="#bx" class="g"/><text y="2.1">IL4</text></g>
<g id="n-CCL26" transform="translate(569,840)"><use href="#bx" class="r"/><text y="2.1">CCL26</text></g>
<g id="n-PLCG2" transform="translate(620,748)"><use href="#bx" class="b"/><text y="2.1">PLCG2</text></g>
<g id="n-RANTES" transform="translate(620,803)"><use href="#bx" class="g"/><text y="2.1">RANTES</text></g>
<g id="n-TCF25" transform="translate(168,890)"><use href="#bx" class="b"/><text y="2.1">TCF25</text></g>
<g id="n-MCP3" transform="translate(167,945)"><use href="#bx" class="g"/><text y="2.1">MCP3</text></g>
<g id="n-SLC25A11" transform="translate(220,890)"><use href="#bx" class="b"/><text y="2.1">SLC25A11</text></g>
<g id="n-MCP4" transform="translate(220,945)"><use href="#bx" class="g"/><text y="2.1">MCP4</text></g>
<g id="n-PDRG1" transform="translate(273,890)"><use href="#bx" class="b"/><text y="2.1">PDRG1</text></g>
<g id="n-MIF" transform="translate(272,945)"><use href="#bx" class="g"/><text y="2.1">MIF</text></g>
<g id="n-SRSF10" transform="translate(326,890)"><use href="#bx" class="b"/><text y="2.1">SRSF10</text></g>
<g id="n-MIP1A" transform="translate(325,945)"><use href="#bx" class="g"/><text y="2.1">MIP1A</text></g>
<g id="n-SSR3" transform="translate(904,389)"><use href="#bx" class="b"/><text y="2.1">SSR3</text></g>
<g id="n-GLT8D1" transform="translate(950,392)"><use href="#bx" class="b"/><text y="2.1">GLT8D1</text></g>
<g id="n-DNAJC8" transform="translate(998,403)"><use href="#bx" class="b"/><text y="2.1">DNAJC8</text></g>
<g id="n-SMARCB1" transform="translate(858,416)"><use href="#bx" class="b"/><text y="2.1">SMARCB1</text></g>
<g id="n-TUBB8" transform="translate(911,419)"><use href="#bx" class="b"/><text y="2.1">TUBB8</text></g>
<g id="n-PPP1R9B" transform="translate(957,429)"><use href="#bx" class="b"/><text y="2.1">PPP1R9B</text></g>
<g id="n-FAHD2A-FAHD2B" transform="translate(812,433)"><use href="#bx" class="b"/><text y="2.1">FAHD2A;FAHD2B</text></g>
<g id="n-ANKRD50" transform="translate(871,454)"><use href="#bx" class="b"/><text y="2.1">ANKRD50</text></g>
<g id="n-C21orf33" transform="translate(993,455)"><use href="#bx" class="b"/><text y="2.1">C21orf33</text></g>
<g id="n-MIP3B" transform="translate(929,474)"><use href="#bx" class="g"/><text y="2.1">MIP3B</text></g>
<g id="n-TNS1" transform="translate(1076,436)"><use href="#bx" class="b"/><text y="2.1">TNS1</text></g>
<g id="n-ASNS" transform="translate(1123,429)"><use href="#bx" class="b"/><text y="2.1">ASNS</text></g>
<g id="n-ARPC1B" transform="translate(1053,471)"><use href="#bx" class="b"/><text y="2.1">ARPC1B</text></g>
<g id="n-MIP3A" transform="translate(1101,494)"><use href="#bx" class="g"/><text y="2.1">MIP3A</text></g>
<g id="n-BAZ1B" transform="translate(631,474)"><use href="#bx" class="b"/><text y="2.1">BAZ1B</text></g>
<g id="n-IL11" transform="translate(688,494)"><use href="#bx" class="g"/><text y="2.1">IL11</text></g>
<g id="n-CHMP2B" transform="translate(811,483)"><use href="#bx" class="b"/><text y="2.1">CHMP2B</text></g>
<g id="n-TMX2" transform="translate(871,491)"><use href="#bx" class="b"/><text y="2.1">TMX2</text></g>
<g id="n-ABR" transform="translate(754,518)"><use href="#bx" class="b"/><text y="2.1">ABR</text></g>
<g id="n-EXOC8" transform="translate(801,514)"><use href="#bx" class="b"/><text y="2.1">EXOC8</text></g>
<g id="n-SLC29A1" transform="translate(1013,521)"><use href="#bx" class="r"/><text y="2.1">SLC29A1</text></g>
<g id="n-ISOC2" transform="translate(901,536)"><use href="#bx" class="b"/><text y="2.1">ISOC2</text></g>
<g id="n-MIP3" transform="translate(852,540)"><use href="#bx" class="g"/><text y="2.1">MIP3</text></g>
<g id="n-TNPO3" transform="translate(785,553)"><use href="#bx" class="b"/><text y="2.1">TNPO3</text></g>
<g id="n-RPS27A" transform="translate(952,553)"><use href="#bx" class="b"/><text y="2.1">RPS27A</text></g>
<g id="n-FKBP8" transform="translate(1089,543)"><use href="#bx" class="b"/><text y="2.1">FKBP8</text></g>
<g id="n-PEAR1" transform="translate(999,556)"><use href="#bx" class="b"/><text y="2.1">PEAR1</text></g>
<g id="n-TGFB2" transform="translate(1048,573)"><use href="#bx" class="g"/><text y="2.1">TGFB2</text></g>
<g id="n-LYN" transform="translate(810,585)"><use href="#bx" class="b"/><text y="2.1">LYN</text></g>
<g id="n-UBL5" transform="translate(988,599)"><use href="#bx" class="b"/><text y="2.1">UBL5</text></g>
<g id="n-SAR1B" transform="translate(918,609)"><use href="#bx" class="b"/><text y="2.1">SAR1B;DKFZp434B2017</text></g>
<g id="n-PFDN4" transform="translate(1066,625)"><use href="#bx" class="b"/><text y="2.1">PFDN4</text></g>
<g id="n-VCAN" transform="translate(1019,633)"><use href="#bx" class="r"/><text y="2.1">VCAN</text></g>
<g id="n-NAV1" transform="translate(1035,663)"><use href="#bx" class="r"/><text y="2.1">NAV1</text></g>
<g id="n-NCBP1" transform="translate(727,623)"><use href="#bx" class="b"/><text y="2.1">NCBP1</text></g>
<g id="n-CCDC25" transform="translate(834,638)"><use href="#bx" class="b"/><text y="2.1">CCDC25</text></g>
<g id="n-OSTEOPONTIN" transform="translate(888,648)"><use href="#bx" class="g"/><text y="2.1">OSTEOPONTIN</text></g>
<g id="n-CD99" transform="translate(933,646)"><use href="#bx" class="b"/><text y="2.1">CD99</text></g>
<g id="n-YTHDC2" transform="translate(715,658)"><use href="#bx" class="b"/><text y="2.1">YTHDC2</text></g>
<g id="n-IL21" transform="translate(788,657)"><use href="#bx" class="g"/><text y="2.1">IL21</text></g>
<g id="n-PDIA3" transform="translate(834,685)"><use href="#bx" class="b"/><text y="2.1">PDIA3</text></g>
<g id="n-MYL1-MYL3" transform="translate(727,693)"><use href="#bx" class="b"/><text y="2.1">MYL1;MYL3</text></g>
<g id="n-GLIPR2" transform="translate(770,723)"><use href="#bx" class="b"/><text y="2.1">GLIPR2</text></g>
<g id="n-TEX264" transform="translate(865,713)"><use href="#bx" class="b"/><text y="2.1">TEX264</text></g>
<g id="n-AIDA" transform="translate(912,711)"><use href="#bx" class="b"/><text y="2.1">AIDA</text></g>
<g id="n-SEH1L" transform="translate(1001,807)"><use href="#bx" class="b"/><text y="2.1">SEH1L</text></g>
<g id="n-LSM14A" transform="translate(1047,812)"><use href="#bx" class="b"/><text y="2.1">LSM14A</text></g>
<g id="n-C11orf58-SMAP" transform="translate(954,832)"><use href="#bx" class="b"/><text y="2.1">C11orf58;SMAP</text></g>
<g id="n-DUS3L" transform="translate(1079,842)"><use href="#bx" class="b"/><text y="2.1">DUS3L</text></g>
<g id="n-GEMIN7" transform="translate(924,860)"><use href="#bx" class="b"/><text y="2.1">GEMIN7</text></g>
<g id="n-MIP5" transform="translate(1026,867)"><use href="#bx" class="g"/><text y="2.1">MIP5</text></g>
<g id="n-LSM3" transform="translate(1100,873)"><use href="#bx" class="b"/><text y="2.1">LSM3</text></g>
<g id="n-DYNLL2" transform="translate(975,876)"><use href="#bx" class="b"/><text y="2.1">DYNLL2</text></g>
<g id="n-AP1S1" transform="translate(1082,900)"><use href="#bx" class="b"/><text y="2.1">AP1S1</text></g>
<g id="n-INTS7" transform="translate(940,901)"><use href="#bx" class="b"/><text y="2.1">INTS7</text></g>
<g id="n-BLOC1S2" transform="translate(988,912)"><use href="#bx" class="b"/><text y="2.1">BLOC1S2</text></g>
<g id="n-FYN" transform="translate(1036,923)"><use href="#bx" class="b"/><text y="2.1">FYN</text></g>
<g id="n-UQCRH" transform="translate(1085,933)"><use href="#bx" class="b"/><text y="2.1">UQCRH</text></g>
<g id="n-WDR82" transform="translate(1152,925)"><use href="#bx" class="b"/><text y="2.1">WDR82</text></g>
<g id="n-RANBP1" transform="translate(944,937)"><use href="#bx" class="b"/><text y="2.1">RANBP1</text></g>
<g id="n-PSMD4" transform="translate(991,949)"><use href="#bx" class="b"/><text y="2.1">PSMD4</text></g>
<g id="n-MRPL48" transform="translate(1038,957)"><use href="#bx" class="r"/><text y="2.1">MRPL48</text></g>
<g id="n-MIP1B" transform="translate(1274,943)"><use href="#bx" class="g"/><text y="2.1">MIP1B</text></g>
<g id="n-MRPL24" transform="translate(1390,922)"><use href="#bx" class="b"/><text y="2.1">MRPL24</text></g>
<g id="n-TSFM" transform="translate(1298,1004)"><use href="#bx" class="b"/><text y="2.1">TSFM</text></g>
<g id="n-CASP1" transform="translate(1389,270)"><use href="#bx" class="r"/><text y="2.1">CASP1</text></g>
<g id="n-TCAF2" transform="translate(1337,279)"><use href="#bx" class="r"/><text y="2.1">TCAF2</text></g>
<g id="n-PSMB10" transform="translate(1436,282)"><use href="#bx" class="r"/><text y="2.1">PSMB10</text></g>
<g id="n-DDX60" transform="translate(1484,277)"><use href="#bx" class="r"/><text y="2.1">DDX60</text></g>
<g id="n-NUB1" transform="translate(1284,295)"><use href="#bx" class="r"/><text y="2.1">NUB1</text></g>
<g id="n-STAT1" transform="translate(1384,300)"><use href="#bx" class="r"/><text y="2.1">STAT1</text></g>
<g id="n-HLA-DRA" transform="translate(1438,308)"><use href="#bx" class="r"/><text y="2.1">HLA-DRA</text></g>
<g id="n-TRIM21" transform="translate(1486,308)"><use href="#bx" class="r"/><text y="2.1">TRIM21</text></g>
<g id="n-GBP2" transform="translate(1535,297)"><use href="#bx" class="r"/><text y="2.1">GBP2</text></g>
<g id="n-UBE2L6" transform="translate(1331,307)"><use href="#bx" class="r"/><text y="2.1">UBE2L6</text></g>
<g id="n-ABCB7" transform="translate(1254,323)"><use href="#bx" class="b"/><text y="2.1">ABCB7</text></g>
<g id="n-SAMD9L" transform="translate(1392,327)"><use href="#bx" class="r"/><text y="2.1">SAMD9L</text></g>
<g id="n-GBP5" transform="translate(1534,323)"><use href="#bx" class="r"/><text y="2.1">GBP5</text></g>
<g id="n-PSMB9" transform="translate(1586,323)"><use href="#bx" class="r"/><text y="2.1">PSMB9</text></g>
<g id="n-IDO1" transform="translate(1300,334)"><use href="#bx" class="r"/><text y="2.1">IDO1</text></g>
<g id="n-HAPLN3" transform="translate(1346,334)"><use href="#bx" class="r"/><text y="2.1">HAPLN3</text></g>
<g id="n-SAMHD1" transform="translate(1467,336)"><use href="#bx" class="r"/><text y="2.1">SAMHD1</text></g>
<g id="n-CASP7" transform="translate(1636,340)"><use href="#bx" class="r"/><text y="2.1">CASP7</text></g>
<g id="n-STAT2" transform="translate(1253,354)"><use href="#bx" class="r"/><text y="2.1">STAT2</text></g>
<g id="n-LAP3" transform="translate(1421,353)"><use href="#bx" class="r"/><text y="2.1">LAP3</text></g>
<g id="n-TRAFD1" transform="translate(1514,352)"><use href="#bx" class="r"/><text y="2.1">TRAFD1</text></g>
<g id="n-PSMB8" transform="translate(1561,349)"><use href="#bx" class="r"/><text y="2.1">PSMB8;PSMB</text></g>
<g id="n-PSMF1" transform="translate(1307,367)"><use href="#bx" class="r"/><text y="2.1">PSMF1</text></g>
<g id="n-SYNE2" transform="translate(1363,360)"><use href="#bx" class="r"/><text y="2.1">SYNE2</text></g>
<g id="n-CD74" transform="translate(1607,366)"><use href="#bx" class="r"/><text y="2.1">CD74</text></g>
<g id="n-CASP10" transform="translate(1529,378)"><use href="#bx" class="r"/><text y="2.1">CASP10</text></g>
<g id="n-WARS" transform="translate(1260,387)"><use href="#bx" class="r"/><text y="2.1">WARS</text></g>
<g id="n-DNPEP" transform="translate(1356,388)"><use href="#bx" class="r"/><text y="2.1">DNPEP</text></g>
<g id="n-IFNg" transform="translate(1451,387)"><use href="#bx" class="g"/><text y="2.1">IFNg</text></g>
<g id="n-NMI" transform="translate(1655,383)"><use href="#bx" class="r"/><text y="2.1">NMI</text></g>
<g id="n-CLIC2" transform="translate(1588,392)"><use href="#bx" class="r"/><text y="2.1">CLIC2</text></g>
<g id="n-VRK2" transform="translate(1307,404)"><use href="#bx" class="r"/><text y="2.1">VRK2</text></g>
<g id="n-BST2" transform="translate(1409,416)"><use href="#bx" class="r"/><text y="2.1">BST2</text></g>
<g id="n-APOL3" transform="translate(1484,436)"><use href="#bx" class="r"/><text y="2.1">APOL3</text></g>
<g id="n-MX1" transform="translate(1546,437)"><use href="#bx" class="r"/><text y="2.1">MX1</text></g>
<g id="n-TYMP" transform="translate(1615,437)"><use href="#bx" class="r"/><text y="2.1">TYMP</text></g>
<g id="n-B2M" transform="translate(1319,447)"><use href="#bx" class="r"/><text y="2.1">B2M</text></g>
<g id="n-HLA-E" transform="translate(1373,445)"><use href="#bx" class="r"/><text y="2.1">HLA-E</text></g>
<g id="n-LGALS9" transform="translate(1430,442)"><use href="#bx" class="r"/><text y="2.1">LGALS9</text></g>
<g id="n-SLFN5" transform="translate(1481,463)"><use href="#bx" class="r"/><text y="2.1">SLFN5</text></g>
<g id="n-ISG15" transform="translate(1531,464)"><use href="#bx" class="r"/><text y="2.1">ISG15</text></g>
<g id="n-TAP1" transform="translate(1577,463)"><use href="#bx" class="r"/><text y="2.1">TAP1</text></g>
<g id="n-EIF4EBP1" transform="translate(1670,459)"><use href="#bx" class="b"/><text y="2.1">EIF4EBP1</text></g>
<g id="n-GBP4" transform="translate(1292,475)"><use href="#bx" class="r"/><text y="2.1">GBP4</text></g>
<g id="n-DTX3L" transform="translate(1338,476)"><use href="#bx" class="r"/><text y="2.1">DTX3L</text></g>
<g id="n-IFI35" transform="translate(1385,471)"><use href="#bx" class="r"/><text y="2.1">IFI35</text></g>
<g id="n-APOL2" transform="translate(1431,468)"><use href="#bx" class="r"/><text y="2.1">APOL2</text></g>
<g id="n-PARP14" transform="translate(1566,491)"><use href="#bx" class="r"/><text y="2.1">PARP14</text></g>
<g id="n-GIMAP" transform="translate(1623,487)"><use href="#bx" class="b"/><text y="2.1">GIMAP1-GIMAP5;GIMAP</text></g>
<g id="n-LRRC8A" transform="translate(1675,486)"><use href="#bx" class="b"/><text y="2.1">LRRC8A</text></g>
<g id="n-TAP2" transform="translate(1410,497)"><use href="#bx" class="r"/><text y="2.1">TAP2</text></g>
<g id="n-GBP1" transform="translate(1468,493)"><use href="#bx" class="r"/><text y="2.1">GBP1</text></g>
<g id="n-IFIT3" transform="translate(1515,492)"><use href="#bx" class="r"/><text y="2.1">IFIT3</text></g>
<g id="n-OAS3" transform="translate(1360,501)"><use href="#bx" class="r"/><text y="2.1">OAS3</text></g>
<g id="n-RPL39P5-RPL39" transform="translate(1240,487)"><use href="#bx" class="b"/><text y="2.1">RPL39P5;RPL39</text></g>
<g id="n-LAMP2" transform="translate(1263,513)"><use href="#bx" class="b"/><text y="2.1">LAMP2</text></g>
<g id="n-CDK6" transform="translate(1309,522)"><use href="#bx" class="r"/><text y="2.1">CDK6</text></g>
<g id="n-ENO2" transform="translate(1499,520)"><use href="#bx" class="b"/><text y="2.1">ENO2</text></g>
<g id="n-SQSTM1" transform="translate(1601,518)"><use href="#bx" class="r"/><text y="2.1">SQSTM1</text></g>
<g id="n-ZC3H7B" transform="translate(1355,533)"><use href="#bx" class="r"/><text y="2.1">ZC3H7B</text></g>
<g id="n-TATDN1" transform="translate(1402,530)"><use href="#bx" class="b"/><text y="2.1">TATDN1</text></g>
<g id="n-SELM" transform="translate(1448,528)"><use href="#bx" class="r"/><text y="2.1">SELM</text></g>
<g id="n-CALCRL" transform="translate(1545,531)"><use href="#bx" class="b"/><text y="2.1">CALCRL</text></g>
<g id="n-TFPI2" transform="translate(1217,539)"><use href="#bx" class="r"/><text y="2.1">TFPI2</text></g>
<g id="n-JUNB" transform="translate(1264,550)"><use href="#bx" class="r"/><text y="2.1">JUNB</text></g>
<g id="n-CTSS" transform="translate(1494,551)"><use href="#bx" class="r"/><text y="2.1">CTSS</text></g>
<g id="n-GLRX" transform="translate(1313,560)"><use href="#bx" class="b"/><text y="2.1">GLRX</text></g>
<g id="n-MCM3" transform="translate(1372,560)"><use href="#bx" class="b"/><text y="2.1">MCM3</text></g>
<g id="n-FADS3" transform="translate(1425,558)"><use href="#bx" class="r"/><text y="2.1">FADS3</text></g>
<g id="n-CCL14" transform="translate(1583,558)"><use href="#bx" class="b"/><text y="2.1">CCL14</text></g>
<g id="n-STX5" transform="translate(1218,572)"><use href="#bx" class="r"/><text y="2.1">STX5</text></g>
<g id="n-FLRT2" transform="translate(1267,580)"><use href="#bx" class="r"/><text y="2.1">FLRT2</text></g>
<g id="n-BPGM" transform="translate(1163,583)"><use href="#bx" class="r"/><text y="2.1">BPGM</text></g>
<g id="n-TNFa" transform="translate(1479,580)"><use href="#bx" class="g"/><text y="2.1">TNFa</text></g>
<g id="n-IFIH1" transform="translate(1419,583)"><use href="#bx" class="r"/><text y="2.1">IFIH1</text></g>
<g id="n-TAPBP" transform="translate(1536,577)"><use href="#bx" class="r"/><text y="2.1">TAPBP</text></g>
<g id="n-THBS1" transform="translate(1319,585)"><use href="#bx" class="b"/><text y="2.1">THBS1</text></g>
<g id="n-MAN2A1" transform="translate(1369,592)"><use href="#bx" class="r"/><text y="2.1">MAN2A1</text></g>
<g id="n-NTN4" transform="translate(1219,600)"><use href="#bx" class="b"/><text y="2.1">NTN4</text></g>
<g id="n-HLA-A" transform="translate(1593,599)"><use href="#bx" class="r"/><text y="2.1">HLA-A</text></g>
<g id="n-SMAD3" transform="translate(1546,603)"><use href="#bx" class="r"/><text y="2.1">SMAD3</text></g>
<g id="n-ERAP1" transform="translate(1266,610)"><use href="#bx" class="r"/><text y="2.1">ERAP1</text></g>
<g id="n-NID1" transform="translate(1312,613)"><use href="#bx" class="b"/><text y="2.1">NID1</text></g>
<g id="n-COLGALT1" transform="translate(1358,617)"><use href="#bx" class="r"/><text y="2.1">COLGALT1</text></g>
<g id="n-CYB5A" transform="translate(1451,609)"><use href="#bx" class="r"/><text y="2.1">CYB5A</text></g>
<g id="n-IL33" transform="translate(1497,617)"><use href="#bx" class="g"/><text y="2.1">IL33</text></g>
<g id="n-PLAT" transform="translate(1596,626)"><use href="#bx" class="b"/><text y="2.1">PLAT</text></g>
<g id="n-ARMC9" transform="translate(1404,630)"><use href="#bx" class="r"/><text y="2.1">ARMC9</text></g>
<g id="n-LAMB3" transform="translate(1544,629)"><use href="#bx" class="r"/><text y="2.1">LAMB3</text></g>
<g id="n-FNDC3B" transform="translate(1225,637)"><use href="#bx" class="r"/><text y="2.1">FNDC3B</text></g>
<g id="n-ABLIM3" transform="translate(1272,641)"><use href="#bx" class="b"/><text y="2.1">ABLIM3</text></g>
<g id="n-LAMC2" transform="translate(1318,643)"><use href="#bx" class="r"/><text y="2.1">LAMC2</text></g>
<g id="n-ECE1" transform="translate(1451,638)"><use href="#bx" class="r"/><text y="2.1">ECE1</text></g>
<g id="n-DDX58" transform="translate(1497,646)"><use href="#bx" class="r"/><text y="2.1">DDX58</text></g>
<g id="n-PDCD4" transform="translate(1584,655)"><use href="#bx" class="b"/><text y="2.1">PDCD4</text></g>
<g id="n-MGAT2" transform="translate(1364,655)"><use href="#bx" class="r"/><text y="2.1">MGAT2</text></g>
<g id="n-CSRP2" transform="translate(1411,664)"><use href="#bx" class="r"/><text y="2.1">CSRP2</text></g>
<g id="n-RELL1" transform="translate(1234,669)"><use href="#bx" class="r"/><text y="2.1">RELL1</text></g>
<g id="n-RELB" transform="translate(1281,670)"><use href="#bx" class="r"/><text y="2.1">RELB</text></g>
<g id="n-TNFAIP2" transform="translate(1460,674)"><use href="#bx" class="r"/><text y="2.1">TNFAIP2</text></g>
<g id="n-NFKB2" transform="translate(1507,674)"><use href="#bx" class="r"/><text y="2.1">NFKB2</text></g>
<g id="n-PTGS2" transform="translate(1553,680)"><use href="#bx" class="r"/><text y="2.1">PTGS2</text></g>
<g id="n-NRCAM" transform="translate(1602,681)"><use href="#bx" class="r"/><text y="2.1">NRCAM</text></g>
<g id="n-PDCL3" transform="translate(1329,681)"><use href="#bx" class="r"/><text y="2.1">PDCL3</text></g>
<g id="n-PTPRK" transform="translate(1382,690)"><use href="#bx" class="r"/><text y="2.1">PTPRK</text></g>
<g id="n-MPZL1" transform="translate(1283,695)"><use href="#bx" class="r"/><text y="2.1">MPZL1</text></g>
<g id="n-MAFF" transform="translate(1437,701)"><use href="#bx" class="r"/><text y="2.1">MAFF</text></g>
<g id="n-SLC12A2" transform="translate(1487,702)"><use href="#bx" class="r"/><text y="2.1">SLC12A2</text></g>
<g id="n-RIPK2" transform="translate(1538,706)"><use href="#bx" class="r"/><text y="2.1">RIPK2</text></g>
<g id="n-SLC7A2" transform="translate(1595,707)"><use href="#bx" class="r"/><text y="2.1">SLC7A2</text></g>
<g id="n-TMF1" transform="translate(1337,716)"><use href="#bx" class="r"/><text y="2.1">TMF1</text></g>
<g id="n-SELE" transform="translate(1407,727)"><use href="#bx" class="r"/><text y="2.1">SELE</text></g>
<g id="n-BGN" transform="translate(1472,729)"><use href="#bx" class="b"/><text y="2.1">BGN</text></g>
<g id="n-JAG1" transform="translate(1527,732)"><use href="#bx" class="r"/><text y="2.1">JAG1</text></g>
<g id="n-ST6GAL1" transform="translate(1580,733)"><use href="#bx" class="r"/><text y="2.1">ST6GAL1</text></g>
<g id="n-MMRN1" transform="translate(1736,487)"><use href="#bx" class="b"/><text y="2.1">MMRN1</text></g>
<g id="n-LRRC32" transform="translate(1830,485)"><use href="#bx" class="r"/><text y="2.1">LRRC32</text></g>
<g id="n-VWF" transform="translate(1643,514)"><use href="#bx" class="b"/><text y="2.1">VWF</text></g>
<g id="n-FLT4" transform="translate(1690,512)"><use href="#bx" class="b"/><text y="2.1">FLT4</text></g>
<g id="n-FAM65A" transform="translate(1775,516)"><use href="#bx" class="r"/><text y="2.1">FAM65A</text></g>
<g id="n-MKL2" transform="translate(1857,519)"><use href="#bx" class="r"/><text y="2.1">MKL2</text></g>
<g id="n-ADD3" transform="translate(1629,544)"><use href="#bx" class="r"/><text y="2.1">ADD3</text></g>
<g id="n-SERPINE1" transform="translate(1675,542)"><use href="#bx" class="r"/><text y="2.1">SERPINE1</text></g>
<g id="n-DBT" transform="translate(1733,537)"><use href="#bx" class="b"/><text y="2.1">DBT</text></g>
<g id="n-NNMT" transform="translate(1873,548)"><use href="#bx" class="r"/><text y="2.1">NNMT</text></g>
<g id="n-ONCOSTATIN" transform="translate(1779,557)"><use href="#bx" class="g"/><text y="2.1">ONCOSTATIN</text></g>
<g id="n-OPTN" transform="translate(1723,564)"><use href="#bx" class="r"/><text y="2.1">OPTN</text></g>
<g id="n-TMPIT" transform="translate(1630,573)"><use href="#bx" class="r"/><text y="2.1">TMPIT;TMEM120A</text></g>
<g id="n-SEPT8" transform="translate(1677,578)"><use href="#bx" class="b"/><text y="2.1">SEPT8</text></g>
<g id="n-NR2F2-NR2F1" transform="translate(1767,589)"><use href="#bx" class="b"/><text y="2.1">NR2F2;NR2F1</text></g>
<g id="n-SDCBP" transform="translate(1813,589)"><use href="#bx" class="r"/><text y="2.1">SDCBP</text></g>
<g id="n-ATPIF1" transform="translate(1878,589)"><use href="#bx" class="b"/><text y="2.1">ATPIF1</text></g>
<g id="n-ANKLE2" transform="translate(1642,604)"><use href="#bx" class="r"/><text y="2.1">ANKLE2</text></g>
<g id="n-IGFBP4" transform="translate(1719,604)"><use href="#bx" class="b"/><text y="2.1">IGFBP4</text></g>
<g id="n-HMGCS1" transform="translate(1764,614)"><use href="#bx" class="r"/><text y="2.1">HMGCS1</text></g>
<g id="n-VAMP5" transform="translate(1813,619)"><use href="#bx" class="b"/><text y="2.1">VAMP5</text></g>
<g id="n-LTBP2" transform="translate(1684,630)"><use href="#bx" class="b"/><text y="2.1">LTBP2</text></g>
<g id="n-DNAJC1" transform="translate(1730,640)"><use href="#bx" class="r"/><text y="2.1">DNAJC1</text></g>
<g id="n-BSDC1" transform="translate(1777,645)"><use href="#bx" class="r"/><text y="2.1">BSDC1</text></g>
<g id="n-SOD2" transform="translate(1631,653)"><use href="#bx" class="r"/><text y="2.1">SOD2</text></g>
<g id="n-NOS3" transform="translate(1683,658)"><use href="#bx" class="b"/><text y="2.1">NOS3</text></g>
<g id="n-VCAM1" transform="translate(1732,670)"><use href="#bx" class="r"/><text y="2.1">VCAM1</text></g>
<g id="n-ICAM1" transform="translate(1648,684)"><use href="#bx" class="r"/><text y="2.1">ICAM1</text></g>
<g id="n-NAMPT" transform="translate(1790,681)"><use href="#bx" class="r"/><text y="2.1">NAMPT</text></g>
<g id="n-TRAF1" transform="translate(1695,697)"><use href="#bx" class="r"/><text y="2.1">TRAF1</text></g>
<g id="n-IL1B" transform="translate(1645,726)"><use href="#bx" class="g"/><text y="2.1">IL1B</text></g>
<g id="n-TRIM58" transform="translate(1767,740)"><use href="#bx" class="r"/><text y="2.1">TRIM58</text></g>
<g id="n-GJA1" transform="translate(1718,750)"><use href="#bx" class="r"/><text y="2.1">GJA1</text></g>
<g id="n-IL1A" transform="translate(1541,759)"><use href="#bx" class="g"/><text y="2.1">IL1A</text></g>
<g id="n-ADAM15" transform="translate(1707,778)"><use href="#bx" class="b"/><text y="2.1">ADAM15</text></g>
<g id="n-TAX1BP3" transform="translate(1765,773)"><use href="#bx" class="b"/><text y="2.1">TAX1BP3</text></g>
<g id="n-CPD" transform="translate(1617,776)"><use href="#bx" class="r"/><text y="2.1">CPD</text></g>
<g id="n-SERPINB2" transform="translate(1514,789)"><use href="#bx" class="r"/><text y="2.1">SERPINB2</text></g>
<g id="n-CXCL8" transform="translate(1566,799)"><use href="#bx" class="r"/><text y="2.1">CXCL8</text></g>
<g id="n-CXCL1" transform="translate(1612,801)"><use href="#bx" class="r"/><text y="2.1">CXCL1</text></g>
<g id="n-BCAM" transform="translate(1660,803)"><use href="#bx" class="b"/><text y="2.1">BCAM</text></g>
<g id="n-SLC4A7" transform="translate(1757,801)"><use href="#bx" class="r"/><text y="2.1">SLC4A7</text></g>
<g id="n-CTPS2" transform="translate(1408,805)"><use href="#bx" class="b"/><text y="2.1">CTPS2</text></g>
<g id="n-KPNA3" transform="translate(1456,805)"><use href="#bx" class="b"/><text y="2.1">KPNA3</text></g>
<g id="n-KLHL4" transform="translate(1707,822)"><use href="#bx" class="b"/><text y="2.1">KLHL4</text></g>
<g id="n-IDI1" transform="translate(1502,825)"><use href="#bx" class="b"/><text y="2.1">IDI1</text></g>
<g id="n-P2RX4" transform="translate(1454,837)"><use href="#bx" class="r"/><text y="2.1">P2RX4</text></g>
<g id="n-MTX1" transform="translate(1550,837)"><use href="#bx" class="r"/><text y="2.1">MTX1</text></g>
<g id="n-FLAD1" transform="translate(1599,837)"><use href="#bx" class="b"/><text y="2.1">FLAD1</text></g>
<g id="n-CLEC14A" transform="translate(1657,832)"><use href="#bx" class="b"/><text y="2.1">CLEC14A</text></g>
<g id="n-IL12" transform="translate(1503,863)"><use href="#bx" class="g"/><text y="2.1">IL12</text></g>
<g id="n-MRPL47" transform="translate(1591,900)"><use href="#bx" class="b"/><text y="2.1">MRPL47</text></g>
<g id="n-COX6B1" transform="translate(1544,919)"><use href="#bx" class="b"/><text y="2.1">COX6B1</text></g>
<g id="n-MYEF2" transform="translate(1591,934)"><use href="#bx" class="b"/><text y="2.1">MYEF2</text></g>
<g id="n-SUB1" transform="translate(1494,937)"><use href="#bx" class="b"/><text y="2.1">SUB1</text></g>
<g id="n-METAP2" transform="translate(1540,951)"><use href="#bx" class="b"/><text y="2.1">METAP2</text></g>
</g>
</svg>
